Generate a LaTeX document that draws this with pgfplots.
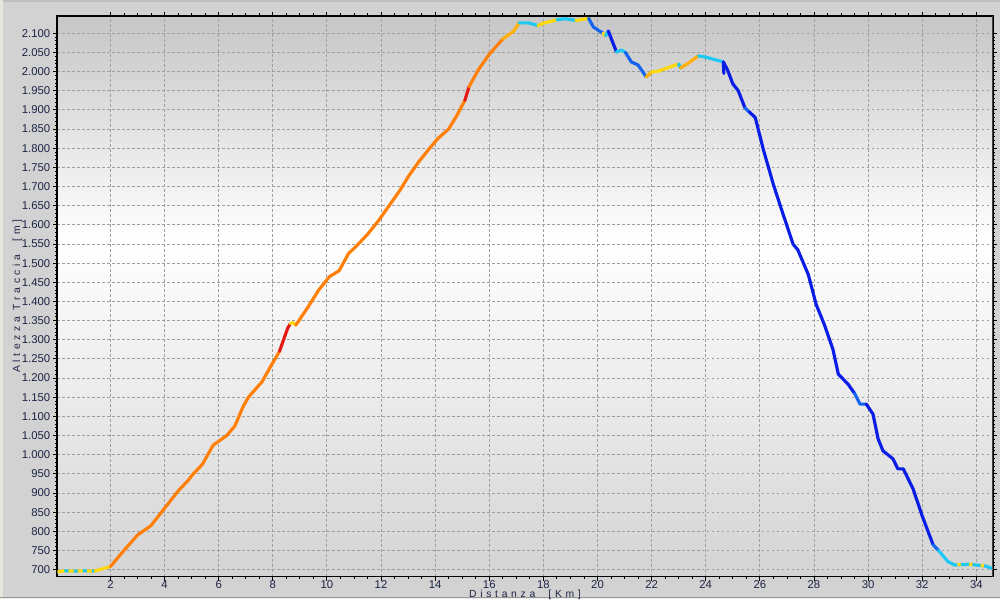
\documentclass[border=0pt]{standalone}
\usepackage{pgfplots}
\pgfplotsset{compat=1.18}
\usepackage{fontspec}
\setmainfont{Liberation Sans}
\definecolor{cOr}{HTML}{FF7F08}
\definecolor{cRe}{HTML}{E61919}
\definecolor{cYe}{HTML}{FFD80A}
\definecolor{cGo}{HTML}{FFB00A}
\definecolor{cCy}{HTML}{1EC8F5}
\definecolor{cBl}{HTML}{0A1EE6}
\definecolor{cMb}{HTML}{1464F0}
\definecolor{outerbg}{HTML}{D2D2D2}
\definecolor{leftstrip}{HTML}{E8E6DC}
\definecolor{botstrip}{HTML}{ECECEC}
\definecolor{bgtop}{HTML}{C6C6C6}
\definecolor{bgbot}{HTML}{D4D4D4}
\definecolor{ticktext}{HTML}{1C2444}
\pgfdeclareverticalshading{plotbg}{100bp}{color(0bp)=(bgbot); color(25bp)=(bgbot); color(55bp)=(white); color(75bp)=(bgtop); color(100bp)=(bgtop)}
\begin{document}
\begin{tikzpicture}
\fill[outerbg] (0pt,0pt) rectangle (600pt,360pt);
\fill[black!25] (0pt,358.8pt) rectangle (600pt,360pt);
\fill[leftstrip] (0pt,0pt) rectangle (1.8pt,360pt);
\fill[botstrip] (0pt,0pt) rectangle (600pt,1.2pt);
\draw[black!40,line width=0.5pt] (0pt,1.4pt) -- (600pt,1.4pt);
\begin{axis}[
  at={(34.2pt,13.8pt)}, anchor=south west,
  scale only axis, width=561.6pt, height=336.6pt,
  xmin=0.04, xmax=34.6, ymin=682, ymax=2145,
  axis background/.style={shading=plotbg},
  xtick={2,4,...,34}, ytick={700,750,...,2100},
  minor x tick num=3, minor y tick num=4,
  tick align=outside,
  major tick length=2.4pt, minor tick length=1.5pt,
  tick style={black, line width=0.5pt},
  grid=major,
  major grid style={gray!75, line width=0.5pt, dash pattern=on 1.6pt off 1.4pt},
  axis line style={black, line width=1.1pt},
  /pgf/number format/.cd, 1000 sep={.}, assume math mode=true,
  /pgfplots/.cd,
  ticklabel style={font=\fontsize{6.8}{8}\selectfont, text=ticktext},
  xticklabel style={yshift=3.4pt},
  yticklabel style={xshift=1.6pt},
  xlabel={Distanza \ [Km]},
  ylabel={Altezza Traccia \ [m]},
  label style={font=\fontsize{6.2}{8}\selectfont\addfontfeature{LetterSpace=36}, text=ticktext},
  xlabel style={at={(axis description cs:0.5,-0.0318)}, anchor=center},
  ylabel style={at={(axis description cs:-0.0427,0.5)}, anchor=center},
  clip=true,
  seg/.style={line width=1.9pt, line join=round, line cap=round, color=#1},
]
% flat start
\addplot[seg=cYe] coordinates {(0.0,694) (0.3,697) (0.7,696) (1.0,697) (1.4,696) (1.6,700) (2.0,708)};
\addplot[seg=cCy, line cap=butt, dash pattern=on 2.5pt off 3pt] coordinates {(0.3,697) (0.7,696) (1.0,697) (1.4,696)};
% climb
\addplot[seg=cOr] coordinates {(2.0,708) (2.5,750) (3.0,790) (3.5,815) (4.0,860) (4.5,905) (4.9,935) (5.0,945) (5.4,975) (5.8,1025) (6.1,1040) (6.3,1050) (6.6,1075) (6.9,1125) (7.1,1150) (7.6,1190) (8.0,1240) (8.25,1270)};
\addplot[seg=cRe] coordinates {(8.25,1270) (8.4,1300) (8.55,1330) (8.65,1342)};
\addplot[seg=cYe] coordinates {(8.65,1342) (8.75,1345) (8.85,1338)};
\addplot[seg=cOr] coordinates {(8.85,1338) (9.3,1385) (9.7,1430) (10.1,1465) (10.45,1480) (10.8,1525) (11.1,1545) (11.5,1575) (11.9,1610) (12.3,1650) (12.7,1690) (13.0,1725) (13.4,1765) (13.8,1800) (14.1,1825) (14.5,1850) (14.8,1885) (15.1,1925)};
\addplot[seg=cRe] coordinates {(15.1,1925) (15.25,1960)};
\addplot[seg=cOr] coordinates {(15.25,1960) (15.6,2005) (16.0,2045) (16.5,2085)};
\addplot[seg=cGo] coordinates {(16.5,2085) (16.9,2105) (17.1,2127)};
% summit
\addplot[seg=cCy] coordinates {(17.1,2127) (17.45,2127) (17.8,2120)};
\addplot[seg=cYe] coordinates {(17.8,2120) (18.0,2126) (18.5,2135)};
\addplot[seg=cCy] coordinates {(18.5,2135) (18.8,2138) (19.2,2133)};
\addplot[seg=cYe] coordinates {(19.2,2133) (19.67,2139)};
\addplot[seg=cMb] coordinates {(19.67,2139) (19.85,2116) (20.2,2100)};
\addplot[seg=cYe] coordinates {(20.2,2100) (20.3,2093)};
\addplot[seg=cCy] coordinates {(20.3,2093) (20.4,2106)};
\addplot[seg=cBl] coordinates {(20.4,2106) (20.7,2051)};
\addplot[seg=cCy] coordinates {(20.7,2051) (20.9,2056) (21.03,2050)};
\addplot[seg=cMb] coordinates {(21.03,2050) (21.25,2025) (21.5,2017) (21.8,1986)};
\addplot[seg=cGo] coordinates {(21.8,1986) (22.0,1999)};
\addplot[seg=cYe] coordinates {(22.0,1999) (22.25,2001) (22.6,2010) (23.0,2020)};
\addplot[seg=cCy] coordinates {(23.0,2020) (23.06,2009)};
\addplot[seg=cGo] coordinates {(23.06,2009) (23.36,2022) (23.73,2041)};
\addplot[seg=cCy] coordinates {(23.73,2041) (23.98,2038) (24.65,2025)};
% descent
\addplot[seg=cBl] coordinates {(24.65,2025) (24.67,1995)};
\addplot[seg=cBl] coordinates {(24.65,2025) (24.8,2005) (25.0,1968) (25.2,1950) (25.45,1905)};
\addplot[seg=cMb] coordinates {(25.45,1905) (25.6,1895)};
\addplot[seg=cBl] coordinates {(25.6,1895) (25.83,1880) (26.13,1796) (26.5,1705) (26.86,1627) (27.23,1549) (27.4,1535) (27.79,1470) (28.08,1392) (28.38,1340) (28.7,1275) (28.9,1210) (29.26,1184) (29.5,1160)};
\addplot[seg=cMb] coordinates {(29.5,1160) (29.7,1132) (29.93,1132)};
\addplot[seg=cBl] coordinates {(29.93,1132) (30.18,1106) (30.37,1041) (30.55,1010) (30.92,989) (31.1,963) (31.3,963) (31.66,911) (32.0,840) (32.4,765)};
\addplot[seg=cMb] coordinates {(32.4,765) (32.6,750)};
\addplot[seg=cCy] coordinates {(32.6,750) (32.95,721) (33.2,712) (33.7,714) (34.0,712) (34.3,710) (34.6,703)};
\addplot[seg=cYe, line cap=butt, dash pattern=on 2pt off 5pt] coordinates {(33.3,713) (33.7,714) (34.0,712) (34.3,710)};
\draw[black!60, line width=0.7pt] (rel axis cs:1,0) -- (rel axis cs:1,1);
\end{axis}
\end{tikzpicture}
\end{document}
